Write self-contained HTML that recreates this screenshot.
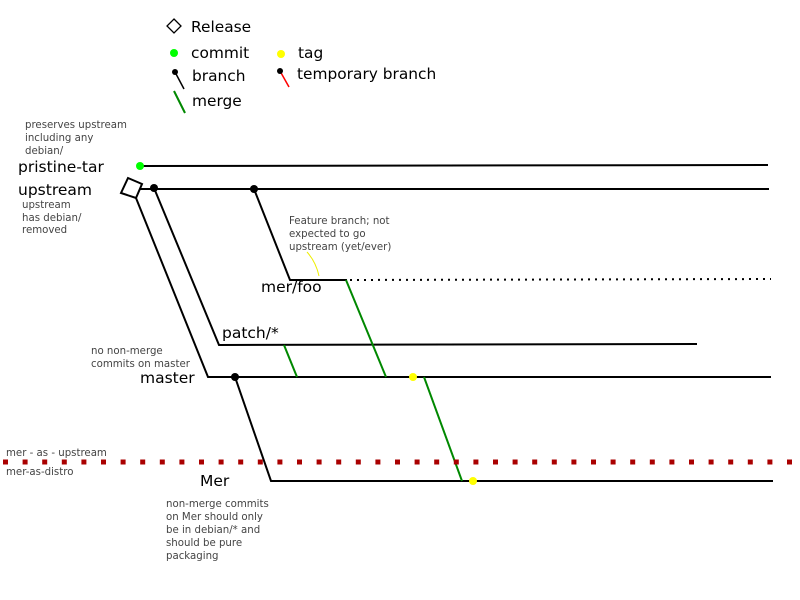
<!DOCTYPE html>
<html><head><style>body{margin:0;background:#fff}svg{display:block}text{font-family:"DejaVu Sans","Liberation Sans",sans-serif}</style></head>
<body>
<svg width="800" height="600" viewBox="0 0 800 600" xmlns="http://www.w3.org/2000/svg">
<!-- legend -->
<polygon points="174,19 181,26 174,33 167,26" fill="none" stroke="#000" stroke-width="1.3"/>
<text x="191" y="32" font-size="15.4">Release</text>
<circle cx="174" cy="53" r="4" fill="#0f0"/>
<text x="191" y="58" font-size="15.4">commit</text>
<circle cx="281" cy="54" r="4" fill="#ff0"/>
<text x="298" y="58" font-size="15.4">tag</text>
<line x1="175" y1="72" x2="184" y2="89" stroke="#000" stroke-width="1.5"/><circle cx="175" cy="72" r="3" fill="#000"/>
<text x="192" y="81" font-size="15.4">branch</text>
<line x1="280" y1="71" x2="289" y2="87" stroke="#f00" stroke-width="1.5"/><circle cx="280" cy="71" r="3" fill="#000"/>
<text x="297" y="79" font-size="15.4">temporary branch</text>
<line x1="174" y1="91" x2="185" y2="113" stroke="#080" stroke-width="2"/>
<text x="192" y="106" font-size="15.4">merge</text>
<!-- lines -->
<g stroke="#000" stroke-width="2" fill="none">
<line x1="140" y1="166" x2="768" y2="165"/>
<line x1="140" y1="189" x2="769" y2="189"/>
<polyline points="136,198 208,377 771,377"/>
<polyline points="154,188 219,345 697,344"/>
<polyline points="254,189 290,280 347,280"/>
<polyline points="235,377 271,481 773,481"/>
</g>
<line x1="350" y1="280" x2="771" y2="279" stroke="#000" stroke-width="2" stroke-dasharray="2 5"/>
<polygon points="128,178 142,184 136,198 121,193" fill="#fff" stroke="#000" stroke-width="2"/>
<g stroke="#080" stroke-width="2">
<line x1="346" y1="280" x2="386" y2="377"/>
<line x1="284" y1="345" x2="297" y2="377"/>
<line x1="424" y1="377" x2="462" y2="481"/>
</g>
<line x1="3" y1="462" x2="795" y2="462" stroke="#a00" stroke-width="5" stroke-dasharray="5 14.6"/>
<circle cx="140" cy="166" r="4" fill="#0f0"/>
<circle cx="154" cy="188" r="4" fill="#000"/>
<circle cx="254" cy="189" r="4" fill="#000"/>
<circle cx="235" cy="377" r="4" fill="#000"/>
<circle cx="413" cy="377" r="4" fill="#ff0"/>
<circle cx="473" cy="481" r="4" fill="#ff0"/>
<path d="M307,252 Q316,262 319,276" stroke="#ee0" stroke-width="1" fill="none"/>
<!-- labels -->
<g font-size="15.5" fill="#000">
<text x="18" y="172">pristine-tar</text>
<text x="18" y="195">upstream</text>
<text x="261" y="292">mer/foo</text>
<text x="222" y="338">patch/*</text>
<text x="140" y="383">master</text>
<text x="200" y="486">Mer</text>
</g>
<g font-size="10.2" fill="#444">
<text x="25" y="128">preserves upstream</text>
<text x="25" y="141">including any</text>
<text x="25" y="154">debian/</text>
<text x="22" y="208">upstream</text>
<text x="22" y="221">has debian/</text>
<text x="22" y="233">removed</text>
<text x="289" y="224">Feature branch; not</text>
<text x="289" y="237">expected to go</text>
<text x="289" y="250">upstream (yet/ever)</text>
<text x="91" y="354">no non-merge</text>
<text x="91" y="367">commits on master</text>
<text x="6" y="456">mer - as - upstream</text>
<text x="6" y="475">mer-as-distro</text>
<text x="166" y="507">non-merge commits</text>
<text x="166" y="520">on Mer should only</text>
<text x="166" y="533">be in debian/* and</text>
<text x="166" y="546">should be pure</text>
<text x="166" y="559">packaging</text>
</g>
</svg>
</body></html>
